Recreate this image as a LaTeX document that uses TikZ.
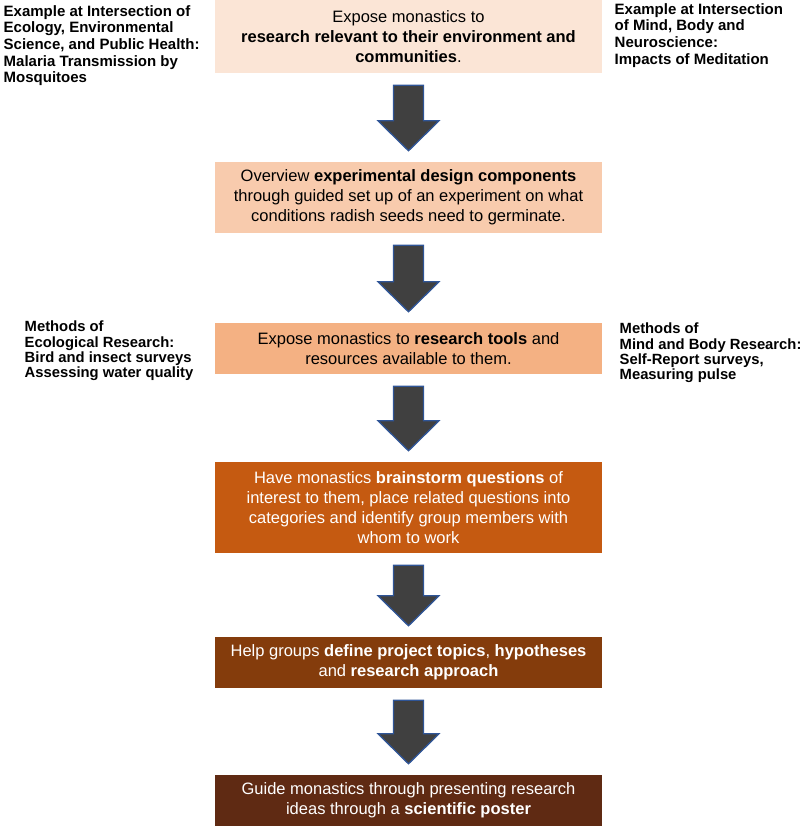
\documentclass[tikz,border=0pt]{standalone}
\usepackage{fontspec}
\setmainfont{Liberation Sans}
\usepackage{tikz}
\usetikzlibrary{calc}

\definecolor{stepone}{HTML}{FBE5D6}
\definecolor{steptwo}{HTML}{F8CBAD}
\definecolor{stepthree}{HTML}{F4B183}
\definecolor{stepfour}{HTML}{C55A11}
\definecolor{stepfive}{HTML}{843C0C}
\definecolor{stepsix}{HTML}{5F2A13}
\definecolor{arrowgray}{HTML}{404040}
\definecolor{arrowblue}{HTML}{2F5597}

\tikzset{
	stepbox/.style={rectangle,inner sep=0pt,minimum width=387pt,align=center,
		font=\fontsize{16.5}{20}\selectfont},
	sidetext/.style={inner sep=0pt,anchor=north west,align=left,
		font=\bfseries\fontsize{15}{16.7}\selectfont},
	bigarrow/.style={draw=arrowblue,fill=arrowgray,line width=1.3pt,line join=miter}
}

% block arrow from the bottom of one box to the top of the next
\newcommand{\blockarrow}[2]{%
	\path ($(#1.south)+(0,12)$) coordinate (top)
		($(#2.north)+(0,-11)$) coordinate (tip)
		($(tip)+(0,-30)$) coordinate (wing);
	\draw[bigarrow] ($(top)+(-15,0)$) -- ($(top)+(15,0)$) -- ($(wing)+(15,0)$)
		-- ($(wing)+(30.5,0)$) -- (tip) -- ($(wing)+(-30.5,0)$)
		-- ($(wing)+(-15,0)$) -- cycle;
}

\begin{document}
\begin{tikzpicture}[x=1pt,y=-1pt]
			\useasboundingbox (0,0) rectangle (803,828);
			\node[stepbox,fill=stepone,minimum height=73pt] (expose) at (408.5,36.5) {Expose monastics to\\ \textbf{research relevant to their environment and}\\ \textbf{communities}.};
			\node[stepbox,fill=steptwo,minimum height=71pt] (overview) at (408.5,197.5) {Overview \textbf{experimental design components}\\ through guided set up of an experiment on what\\ conditions radish seeds need to germinate.};
			\node[stepbox,fill=stepthree,minimum height=51pt] (tools) at (408.5,348.5) {Expose monastics to \textbf{research tools} and\\ resources available to them.};
			\node[stepbox,fill=stepfour,text=white,minimum height=91pt] (brainstorm) at (408.5,507.5) {Have monastics \textbf{brainstorm questions} of\\ interest to them, place related questions into\\ categories and identify group members with\\ whom to work};
			\node[stepbox,fill=stepfive,text=white,minimum height=51pt] (define) at (408.5,662.5) {Help groups \textbf{define project topics}, \textbf{hypotheses}\\ and \textbf{research approach}};
			\node[stepbox,fill=stepsix,text=white,minimum height=51pt] (poster) at (408.5,800.5) {Guide monastics through presenting research\\ ideas through a \textbf{scientific poster}};
			\node[sidetext] (exmalaria) at (3.5,5) {Example at Intersection of\\ Ecology, Environmental\\ Science, and Public Health:\\ Malaria Transmission by\\ Mosquitoes};
			\node[sidetext] (exmeditation) at (614.5,3) {Example at Intersection\\ of Mind, Body and\\ Neuroscience:\\ Impacts of Meditation};
			\node[sidetext,font=\bfseries\fontsize{14.8}{15.2}\selectfont] (ecomethods) at (24.5,321) {Methods of\\ Ecological Research:\\ Bird and insect surveys\\ Assessing water quality};
			\node[sidetext,font=\bfseries\fontsize{14.8}{15.2}\selectfont] (mindmethods) at (619.5,323) {Methods of\\ Mind and Body Research:\\ Self-Report surveys,\\ Measuring pulse};
			\foreach \a/\b in {expose/overview,overview/tools,tools/brainstorm,brainstorm/define,define/poster}
				{\blockarrow{\a}{\b}}
		\end{tikzpicture}
\end{document}
